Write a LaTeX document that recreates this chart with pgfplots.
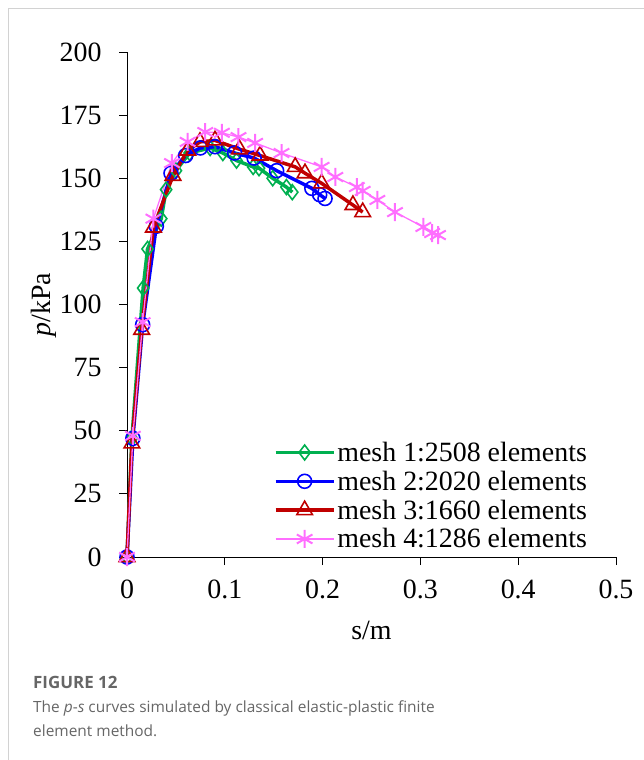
\documentclass[border=0pt]{standalone}
\usepackage{fontspec}
\setmainfont{Liberation Serif}
\newfontfamily\capfont{Open Sans}
\usepackage{pgfplots}
\pgfplotsset{compat=1.18}
\definecolor{cgreen}{RGB}{0,176,80}
\definecolor{cblue}{RGB}{0,0,255}
\definecolor{cred}{RGB}{192,0,0}
\definecolor{cpink}{RGB}{255,110,255}
\definecolor{capgray}{RGB}{102,102,102}
\definecolor{framegray}{RGB}{210,210,210}
\begin{document}
\begin{tikzpicture}
\path[use as bounding box] (0,0) rectangle (644bp,-760bp);
\draw[framegray,line width=1bp] (8bp,-760bp) -- (8bp,-8bp) -- (644bp,-8bp);
\begin{axis}[
  at={(127bp,-557bp)}, anchor=south west,
  scale only axis, width=489bp, height=505bp,
  xmin=0, xmax=0.5, ymin=0, ymax=200,
  axis lines*=left,
  axis line style={line width=1bp},
  clip=false,
  xtick={0,0.1,0.2,0.3,0.4,0.5},
  ytick={0,25,50,75,100,125,150,175,200},
  xticklabels={0,0.1,0.2,0.3,0.4,0.5},
  tick align=outside, major tick length=8bp,
  tick style={line width=1bp,black},
  ticklabel style={font=\fontsize{28}{28}\selectfont},
  xticklabel style={yshift=-11bp},
  yticklabel style={xshift=-14bp},
  /pgf/number format/assume math mode=true,
  xlabel={s/m}, ylabel={\textit{p}/kPa},
  label style={font=\fontsize{28}{28}\selectfont},
  xlabel style={yshift=-16bp},
  ylabel style={yshift=-4bp},
  legend style={draw=none, fill=none, at={(0.3,0.232)}, anchor=north west,
    font=\fontsize{28}{28}\selectfont, row sep=4bp, inner sep=0pt,
    /tikz/every even column/.append style={column sep=2bp}},
  legend cell align=left,
  legend image code/.code={\draw[mark repeat=2,mark phase=2] plot coordinates {(0bp,0bp)(29bp,0bp)(58bp,0bp)};},
]
\addplot[cgreen, line width=3.5bp, mark=diamond, mark size=7.5bp, mark options={line width=1.6bp, fill=none, solid}] coordinates {
(0,0) (0.005,47) (0.0165,106.5) (0.021,122) (0.035,134) (0.040,145.5) (0.05,153) (0.064,160) (0.085,162) (0.098,160) (0.112,157) (0.129,154.5) (0.135,154) (0.149,150) (0.163,146.5) (0.169,144.5)
};
\addlegendentry{mesh 1:2508 elements}
\addplot[cblue, line width=3.5bp, mark=o, mark size=7bp, mark options={line width=1.6bp, fill=none, solid}] coordinates {
(0,0) (0.006,47) (0.016,92) (0.03,131) (0.045,152) (0.06,159) (0.075,162) (0.09,162.5) (0.11,160) (0.13,158) (0.153,153) (0.189,146) (0.197,143.5) (0.2025,142)
};
\addlegendentry{mesh 2:2020 elements}
\addplot[cred, line width=3.5bp, mark=triangle, mark size=9bp, mark options={line width=1.6bp, fill=none, solid}] coordinates {
(0,0) (0.005,45) (0.015,90) (0.027,130.5) (0.047,151) (0.062,161) (0.0746,164.4) (0.09,165) (0.115,161.5) (0.136,159) (0.172,154.5) (0.182,152) (0.199,148) (0.231,139.4) (0.241,136.6)
};
\addlegendentry{mesh 3:1660 elements}
\addplot[cpink, line width=1.3bp, mark=asterisk, mark size=9bp, mark options={line width=2bp, solid}] coordinates {
(0,0) (0.006,48) (0.016,93) (0.027,134) (0.046,156) (0.062,164.4) (0.08,168.3) (0.097,168) (0.114,166.3) (0.131,164) (0.158,160) (0.199,154.5) (0.213,150.5) (0.235,146.5) (0.241,145) (0.256,141.4) (0.274,136.6) (0.303,130.7) (0.312,128.3) (0.318,127.5)
};
\addlegendentry{mesh 4:1286 elements}
\end{axis}
\node[anchor=base west, inner sep=0pt, text=capgray, font=\capfont\bfseries\fontsize{17}{17}\selectfont] at (33bp,-688bp) {FIGURE 12};
\node[anchor=base west, inner sep=0pt, text=capgray, font=\capfont\fontsize{15.5}{15.5}\selectfont] at (33bp,-712bp) {The \textit{p}-\textit{s} curves simulated by classical elastic-plastic finite};
\node[anchor=base west, inner sep=0pt, text=capgray, font=\capfont\fontsize{15.5}{15.5}\selectfont] at (33bp,-736bp) {element method.};
\end{tikzpicture}
\end{document}
